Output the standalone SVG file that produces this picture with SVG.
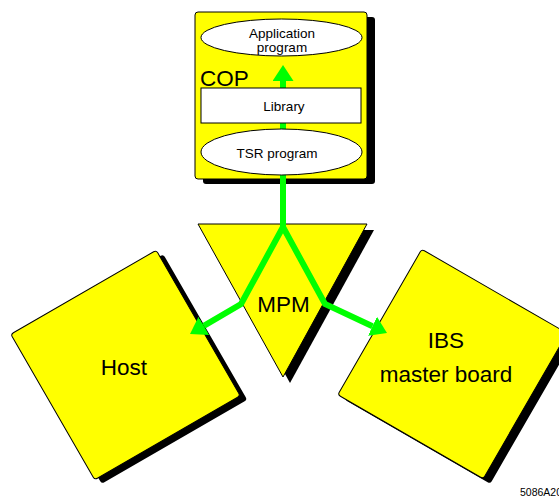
<svg xmlns="http://www.w3.org/2000/svg" width="559" height="498" viewBox="0 0 559 498">
  <style>
    .box { fill: #ffff00; stroke: #000; stroke-width: 1; }
    .shadow { fill: #000; stroke: none; }
    .inner { fill: #fff; stroke: #000; stroke-width: 1; }
    .big { font-family: "Liberation Sans", Arial, sans-serif; font-size: 22.5px; fill: #000; text-anchor: middle; }
    .small { font-family: "Liberation Sans", Arial, sans-serif; font-size: 13.5px; fill: #000; text-anchor: middle; }
    .link { fill: none; stroke: #00ff00; stroke-width: 6; stroke-linejoin: miter; marker-end: url(#head); }
  </style>
  <defs>
    <marker id="head" viewBox="0 0 16 21" refX="0" refY="10.5" markerWidth="16" markerHeight="21" markerUnits="userSpaceOnUse" orient="auto">
      <path d="M0,0 L16,10.5 L0,21 Z" fill="#00ff00"/>
    </marker>
  </defs>

  <rect width="559" height="498" fill="#fff"/>

  <!-- MPM triangle -->
  <g id="mpm">
    <polygon class="shadow" points="205,230 374,230 290,383"/>
    <polygon class="box" points="198,224 367,224 283,377"/>
  </g>

  <!-- Host board -->
  <g id="host">
    <rect class="shadow" x="-84" y="-84" width="168" height="168" rx="3" transform="translate(132.5,369) rotate(-30)"/>
    <rect class="box" x="-84" y="-84" width="168" height="168" rx="3" transform="translate(125.5,365) rotate(-30)"/>
    <text class="big" x="124" y="375">Host</text>
  </g>

  <!-- IBS master board -->
  <g id="ibs">
    <rect class="shadow" x="-84" y="-84" width="168" height="168" rx="3" transform="translate(459.5,369) rotate(30)"/>
    <rect class="box" x="-84" y="-84" width="168" height="168" rx="3" transform="translate(452.5,364) rotate(30)"/>
    <text class="big" x="446" y="348">IBS</text>
    <text class="big" x="446" y="382">master board</text>
  </g>

  <!-- COP frame -->
  <g id="cop">
    <rect class="shadow" x="203" y="17" width="172" height="167" rx="3"/>
    <rect class="box" x="195" y="12" width="172" height="167" rx="3"/>
    <text class="big" x="200" y="86" style="text-anchor:start">COP</text>
  </g>

  <!-- data paths -->
  <g id="connectors">
    <path class="link" d="M283,227 L283,81"/>
    <path class="link" d="M283,227 L241,304 L203.8,325.9"/>
    <path class="link" d="M283,227 L325,304 L372.5,326.2"/>
  </g>

  <!-- MPM label sits above the paths -->
  <g id="mpm-label">
    <text class="big" x="283.5" y="312">MPM</text>
  </g>

  <!-- COP software layers -->
  <g id="application">
    <ellipse class="inner" cx="281.5" cy="37.5" rx="80.5" ry="18.5"/>
    <text class="small" x="282" y="38">Application</text>
    <text class="small" x="282" y="52">program</text>
  </g>
  <g id="library">
    <rect class="inner" x="201" y="88" width="160" height="35"/>
    <text class="small" x="284" y="111">Library</text>
  </g>
  <g id="tsr">
    <ellipse class="inner" cx="281.5" cy="152" rx="80.5" ry="23"/>
    <text class="small" x="277" y="158">TSR program</text>
  </g>

  <text x="520" y="496" font-family="Liberation Sans, Arial, sans-serif" font-size="10.5" fill="#000">5086A20</text>
</svg>
